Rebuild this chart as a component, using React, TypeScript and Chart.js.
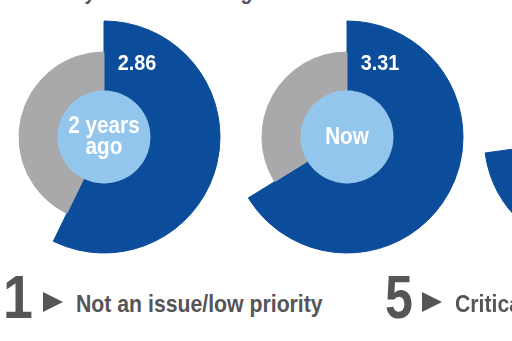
import React, { useEffect, useRef } from "react";
import { Chart, registerables } from "chart.js";

Chart.register(...registerables);

// ---- data ----
const SCALE_MAX = 5;
const chartLabels = [["2 years", "ago"], ["Now"], ["In 2 years"]];
const chartValues = [2.86, 3.31, 3.64];
const valueLabels = ["2.86", "3.31", "3.64"];
const titleText = "Severity of talent shortages";
const scaleLow = { num: "1", text: "Not an issue/low priority" };
const scaleHigh = { num: "5", text: "Critical/high priority" };

// ---- style ----
const BLUE = "#0b4c9b";
const GRAY = "#a9a9ab";
const LIGHT = "#93c6ec";
const TEXT = "#555557";
const FONT = '"Liberation Sans", Arial, sans-serif';
const SQUEEZE = 0.9;
const CENTERS = [
  { x: 104, y: 137 },
  { x: 347, y: 137 },
  { x: 600, y: 137 },
];
const SIZE = 260;

function condensed(ctx: CanvasRenderingContext2D, text: string, x: number, y: number) {
  ctx.save();
  ctx.translate(x, y);
  ctx.scale(SQUEEZE, 1);
  ctx.textAlign = "center";
  ctx.textBaseline = "alphabetic";
  ctx.fillText(text, 0, 0);
  ctx.restore();
}

function Donut({ idx }: { idx: number }) {
  const ref = useRef<HTMLCanvasElement | null>(null);
  useEffect(() => {
    const value = chartValues[idx];
    const lines = chartLabels[idx];
    const vLabel = valueLabels[idx];
    const overlay = {
      id: "overlay",
      afterDatasetsDraw(chart: any) {
        const ctx = chart.ctx;
        const arc = chart.getDatasetMeta(1).data[0];
        const cx = arc.x;
        const cy = arc.y;
        const r = arc.innerRadius;
        ctx.save();
        ctx.beginPath();
        ctx.arc(cx, cy, r, 0, Math.PI * 2);
        ctx.fillStyle = LIGHT;
        ctx.fill();
        ctx.fillStyle = "#ffffff";
        ctx.font = `bold 23px ${FONT}`;
        if (lines.length === 2) {
          condensed(ctx, lines[0], cx, cy - 4);
          condensed(ctx, lines[1], cx, cy + 17);
        } else {
          condensed(ctx, lines[0], cx, cy + 7);
        }
        ctx.font = `bold 22px ${FONT}`;
        condensed(ctx, vLabel, cx + 33, cy - 67);
        ctx.restore();
      },
    };
    const chart = new Chart(ref.current as HTMLCanvasElement, {
      type: "doughnut",
      data: {
        labels: ["Score", "Remainder"],
        datasets: [
          {
            data: [value, SCALE_MAX - value],
            backgroundColor: [BLUE, "rgba(0,0,0,0)"],
            borderColor: [BLUE, "rgba(0,0,0,0)"],
            borderWidth: 1,
            weight: 31,
          },
          {
            data: [value, SCALE_MAX - value],
            backgroundColor: [BLUE, GRAY],
            borderColor: [BLUE, GRAY],
            borderWidth: 1,
            weight: 38.6,
          },
        ],
      },
      options: {
        responsive: false,
        maintainAspectRatio: false,
        animation: false,
        events: [],
        radius: 116,
        cutout: "40%",
        layout: { padding: 0 },
        plugins: {
          legend: { display: false },
          tooltip: { enabled: false },
        },
      } as any,
      plugins: [overlay],
    });
    return () => chart.destroy();
  }, [idx]);
  const c = CENTERS[idx];
  return (
    <canvas
      ref={ref}
      width={SIZE}
      height={SIZE}
      style={{
        position: "absolute",
        left: c.x - SIZE / 2,
        top: c.y - SIZE / 2,
        width: SIZE,
        height: SIZE,
      }}
    />
  );
}

function Tri({ left, top }: { left: number; top: number }) {
  return (
    <div
      style={{
        position: "absolute",
        left,
        top,
        width: 0,
        height: 0,
        borderLeft: `20px solid ${TEXT}`,
        borderTop: "10px solid transparent",
        borderBottom: "10px solid transparent",
      }}
    />
  );
}

const txt = (size: number, left: number, baseline: number, squeeze: number): React.CSSProperties => ({
  position: "absolute",
  left,
  top: baseline - 0.8465 * size,
  fontFamily: FONT,
  fontWeight: "bold",
  fontSize: size,
  lineHeight: `${size}px`,
  color: TEXT,
  whiteSpace: "nowrap",
  transform: `scaleX(${squeeze})`,
  transformOrigin: "0 0",
});

export default function App() {
  return (
    <div
      style={{
        position: "fixed",
        left: 0,
        top: 0,
        width: 512,
        height: 341,
        overflow: "hidden",
        background: "#ffffff",
      }}
    >
      <div style={txt(22, 20, 0, 0.88)}>{titleText}</div>
      {chartValues.map((_, i) => (
        <Donut key={i} idx={i} />
      ))}
      <div style={txt(61, 3, 319, 0.88)}>{scaleLow.num}</div>
      <Tri left={43} top={292} />
      <div style={txt(24, 76, 312, 0.885)}>{scaleLow.text}</div>
      <div style={txt(61, 385, 319, 0.82)}>{scaleHigh.num}</div>
      <Tri left={422} top={292} />
      <div style={txt(24, 455, 312, 0.885)}>{scaleHigh.text}</div>
    </div>
  );
}
